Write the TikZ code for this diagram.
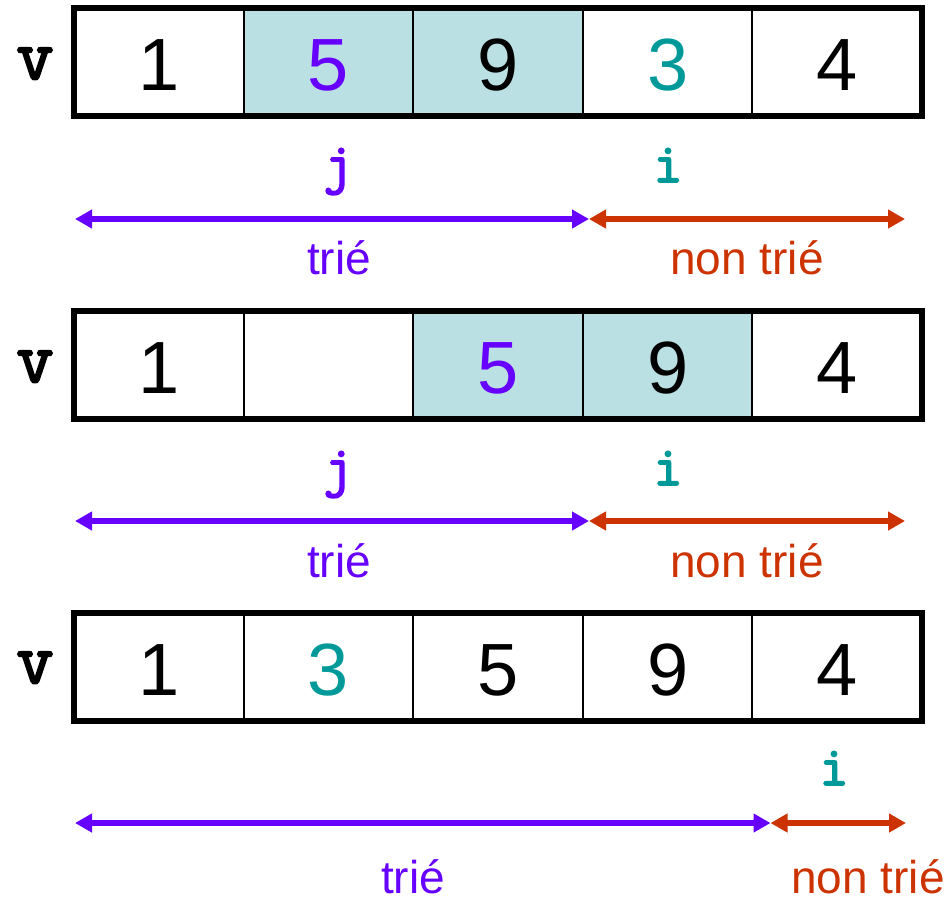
\documentclass[tikz,border=0pt]{standalone}
\usepackage{fontspec}
\setmainfont{Liberation Sans}
\newfontfamily\codefont{Latin Modern Mono}[FakeBold=3]
\usetikzlibrary{arrows.meta}

\definecolor{violet}{HTML}{6600FF}
\definecolor{sarcelle}{HTML}{009999}
\definecolor{rouille}{HTML}{CC3300}
\definecolor{fondcase}{HTML}{BBE0E3}

\tikzset{
  num/.style={anchor=base,font=\fontsize{37}{37}\selectfont},
  var/.style={anchor=base,font=\codefont\fontsize{36}{36}\selectfont},
  idx/.style={anchor=base,font=\codefont\fontsize{28}{28}\selectfont},
  lbl/.style={anchor=base,inner sep=0pt,font=\fontsize{23}{23}\selectfont},
  bord/.style={line width=3pt},
  sep/.style={line width=1pt},
  portee/.style={line width=3pt,{Triangle[length=8.5pt,width=9pt]}-{Triangle[length=8.5pt,width=9pt]}}
}

\begin{document}
\begin{tikzpicture}[x=0.5pt,y=-0.5pt]
\useasboundingbox (0,0) rectangle (951,901);

% etape 1
\fill[fondcase] (243.6,7.5) rectangle (582.8,115.5);
\draw[sep] (243.6,7.5) -- (243.6,115.5);
\draw[sep] (413.2,7.5) -- (413.2,115.5);
\draw[sep] (582.8,7.5) -- (582.8,115.5);
\draw[sep] (752.4,7.5) -- (752.4,115.5);
\draw[bord] (74,7.5) rectangle (922,115.5);
\node[var] (v1) at (35,79) {v};
\node[num] (n11) at (158.8,90) {1};
\node[num,text=violet] (n12) at (328.4,90) {5};
\node[num] (n13) at (498,90) {9};
\node[num,text=sarcelle] (n14) at (667.6,90) {3};
\node[num] (n15) at (837.2,90) {4};
\node[idx,text=violet] (j1) at (338,182) {j};
\node[idx,text=sarcelle] (i1) at (668,182) {i};
\coordinate (g1) at (75,219);
\coordinate (m1) at (589,219);
\coordinate (d1) at (905,219);
\draw[portee,violet] (g1) -- (m1);
\draw[portee,rouille] (m1) -- (d1);
\node[lbl,text=violet] (trie1) at (339,274) {trié};
\node[lbl,text=rouille] (ntrie1) at (747,274) {non trié};

% etape 2
\fill[fondcase] (413.2,310.5) rectangle (752.4,418.5);
\draw[sep] (243.6,310.5) -- (243.6,418.5);
\draw[sep] (413.2,310.5) -- (413.2,418.5);
\draw[sep] (582.8,310.5) -- (582.8,418.5);
\draw[sep] (752.4,310.5) -- (752.4,418.5);
\draw[bord] (74,310.5) rectangle (922,418.5);
\node[var] (v2) at (35,382) {v};
\node[num] (n21) at (158.8,393) {1};
\node[num,text=violet] (n23) at (498,393) {5};
\node[num] (n24) at (667.6,393) {9};
\node[num] (n25) at (837.2,393) {4};
\node[idx,text=violet] (j2) at (338,485) {j};
\node[idx,text=sarcelle] (i2) at (668,485) {i};
\coordinate (g2) at (75,521);
\coordinate (m2) at (589,521);
\coordinate (d2) at (905,521);
\draw[portee,violet] (g2) -- (m2);
\draw[portee,rouille] (m2) -- (d2);
\node[lbl,text=violet] (trie2) at (339,577) {trié};
\node[lbl,text=rouille] (ntrie2) at (747,577) {non trié};

% etape 3
\draw[sep] (243.6,612.5) -- (243.6,720.5);
\draw[sep] (413.2,612.5) -- (413.2,720.5);
\draw[sep] (582.8,612.5) -- (582.8,720.5);
\draw[sep] (752.4,612.5) -- (752.4,720.5);
\draw[bord] (74,612.5) rectangle (922,720.5);
\node[var] (v3) at (35,683) {v};
\node[num] (n31) at (158.8,695) {1};
\node[num,text=sarcelle] (n32) at (328.4,695) {3};
\node[num] (n33) at (498,695) {5};
\node[num] (n34) at (667.6,695) {9};
\node[num] (n35) at (837.2,695) {4};
\node[idx,text=sarcelle] (i3) at (834,785) {i};
\coordinate (g3) at (75,823);
\coordinate (m3) at (770.5,823);
\coordinate (d3) at (906,823);
\draw[portee,violet] (g3) -- (m3);
\draw[portee,rouille] (m3) -- (d3);
\node[lbl,text=violet] (trie3) at (413,893) {trié};
\node[lbl,text=rouille] (ntrie3) at (868,893) {non trié};
\end{tikzpicture}
\end{document}
